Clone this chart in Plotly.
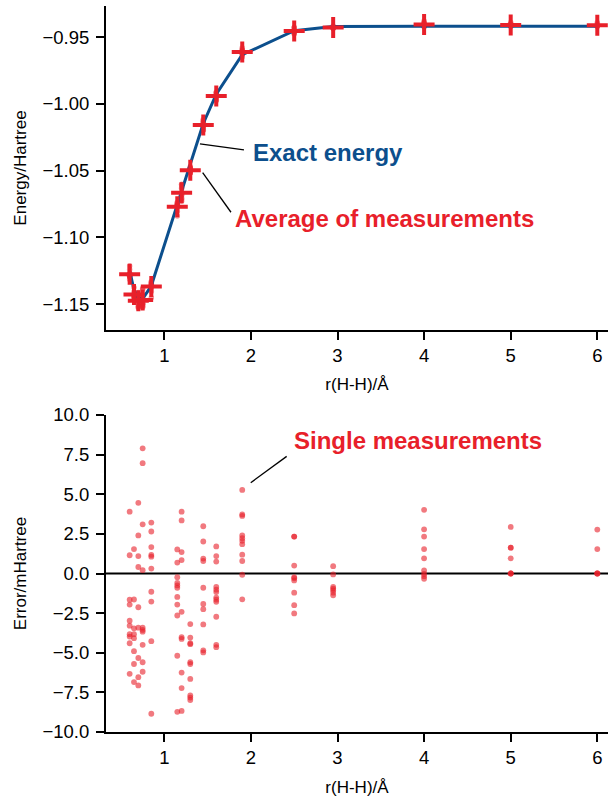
import numpy as np
import plotly.graph_objects as go

# ---------------- data ----------------
distances = [0.6, 0.65, 0.7, 0.75, 0.85, 1.15, 1.2, 1.3, 1.45, 1.6, 1.9, 2.5, 2.95, 4.0, 5.0, 6.0]

exact_energy = [-1.1252, -1.1390, -1.1456, -1.1460, -1.1362, -1.0751, -1.0641, -1.0438,
                -1.0146, -0.9927, -0.9631, -0.9451, -0.9420, -0.9418, -0.9418, -0.9418]

# single-measurement errors in mHartree, one list per distance
errors = [
    [3.9, 1.15, -1.65, -1.96, -2.98, -3.29, -3.83, -3.98, -4.4, -6.33],
    [1.54, -1.64, -3.46, -3.83, -4.08, -4.9, -5.71, -6.85],
    [4.46, 2.40, 1.10, 0.41, -2.13, -3.42, -5.33, -6.54, -7.06],
    [7.9, 6.96, 3.1, 0.21, -3.42, -3.56, -3.67, -4.5, -5.6, -6.2],
    [3.21, 2.65, 1.67, 1.17, 1.06, 0.31, -1.15, -1.77, -4.27, -8.85],
    [1.52, 0.69, -0.23, -0.60, -0.75, -0.9, -1.48, -1.96, -2.65, -5.19, -8.73],
    [3.90, 3.35, 1.35, 0.85, -2.42, -4.02, -4.13, -6.25, -7.23, -8.67],
    [-3.19, -4.04, -4.40, -4.46, -5.6, -5.71, -6.65, -7.69, -7.83, -7.98],
    [2.98, 2.02, 0.94, 0.79, -0.9, -1.92, -2.25, -3.21, -4.85, -4.98],
    [1.71, 1.1, 0.75, -0.85, -1.02, -1.17, -1.52, -1.65, -1.79, -2.73, -4.5, -4.65],
    [5.27, 3.73, 3.63, 2.4, 2.23, 2.06, 1.85, 1.19, 0.79, -0.08, -1.63],
    [2.33, 2.33, 0.5, -0.23, -0.3, -0.44, -1.21, -2.0, -2.52],
    [0.46, -0.06, -0.85, -0.95, -1.06, -1.21, -1.38],
    [4.02, 2.79, 2.33, 1.54, 0.96, 0.19, -0.02, -0.17, -0.33],
    [2.94, 1.63, 1.63, 0.96, 0.0, 0.0, 0.0],
    [2.77, 1.54, 0.0, 0.0, 0.0],
]

energy_ticks = [-0.95, -1.00, -1.05, -1.10, -1.15]
error_ticks = [10.0, 7.5, 5.0, 2.5, 0.0, -2.5, -5.0, -7.5, -10.0]
x_ticks = [1, 2, 3, 4, 5, 6]

# ---------------- derived ----------------
meas_x, meas_err, meas_E = [], [], []
for r, e0, errs in zip(distances, exact_energy, errors):
    for er in errs:
        meas_x.append(r)
        meas_err.append(er)
        meas_E.append(e0 + er / 1000.0)
avg_energy = [e0 + np.mean(errs) / 1000.0 for e0, errs in zip(exact_energy, errors)]

RED = "#e8202a"
BLUE = "#0c4f8d"
FONT = "Liberation Sans, Arial, Helvetica, sans-serif"

fig = go.Figure()

# top panel
fig.add_trace(go.Scatter(x=meas_x, y=meas_E, mode="markers", xaxis="x", yaxis="y",
                         marker=dict(color=RED, size=5.5, opacity=0.45, line=dict(width=0)),
                         showlegend=False, hoverinfo="skip", cliponaxis=True))
fig.add_trace(go.Scatter(x=distances, y=exact_energy, mode="lines", xaxis="x", yaxis="y",
                         line=dict(color=BLUE, width=3), showlegend=False))
fig.add_trace(go.Scatter(x=distances, y=avg_energy, mode="markers", xaxis="x", yaxis="y",
                         marker=dict(symbol="cross-thin", size=15, color=RED,
                                     line=dict(color=RED, width=4)),
                         showlegend=False, cliponaxis=False))

# bottom panel
fig.add_trace(go.Scatter(x=meas_x, y=meas_err, mode="markers", xaxis="x2", yaxis="y2",
                         marker=dict(color=RED, size=5.8, opacity=0.6, line=dict(width=0)),
                         showlegend=False))

W, H = 613, 803
ml, mr, mt, mb = 106, 5, 6, 71
ph = H - mt - mb
top_dom = [(732 - 330) / ph, 1.0]
bot_dom = [0.0, (732 - 415) / ph]
xr = [(106 - 77.7) / 86.6, (608 - 77.7) / 86.6]

axis_common = dict(showline=True, linecolor="black", linewidth=2, ticks="outside",
                   ticklen=8, tickwidth=2, tickcolor="black", showgrid=False, zeroline=False,
                   tickfont=dict(family=FONT, size=18.5, color="black"), mirror=False,
                   automargin=False)

fig.update_layout(
    width=W, height=H, margin=dict(l=ml, r=mr, t=mt, b=mb, autoexpand=False),
    plot_bgcolor="white", paper_bgcolor="white",
    font=dict(family=FONT, color="black"),
    xaxis=dict(domain=[0, 1], anchor="y", range=xr, tickvals=x_ticks,
               ticklabelstandoff=0,
               title=dict(text="r(H-H)/Å", font=dict(family=FONT, size=17), standoff=13),
               **axis_common),
    yaxis=dict(domain=top_dom, anchor="x", range=[-1.1693, -0.9266], tickvals=energy_ticks,
               tickformat=".2f", ticklabelstandoff=3,
               title=dict(text="Energy/Hartree", font=dict(family=FONT, size=17), standoff=12),
               **axis_common),
    xaxis2=dict(domain=[0, 1], anchor="y2", range=xr, tickvals=x_ticks,
                ticklabelstandoff=0,
                title=dict(text="r(H-H)/Å", font=dict(family=FONT, size=17), standoff=14),
                **axis_common),
    yaxis2=dict(domain=bot_dom, anchor="x2", range=[-10, 10], tickvals=error_ticks,
                tickformat=".1f", ticklabelstandoff=3,
                title=dict(text="Error/mHartree", font=dict(family=FONT, size=17), standoff=12),
                **axis_common),
)

# zero line in bottom panel
fig.add_shape(type="line", xref="x2 domain", yref="y2", x0=0, x1=1, y0=0, y1=0,
              line=dict(color="black", width=2), layer="below")

# annotation pointer lines
fig.add_shape(type="line", xref="x", yref="y", x0=1.412, y0=-1.0299, x1=1.920, y1=-1.0344,
              line=dict(color="black", width=1.3))
fig.add_shape(type="line", xref="x", yref="y", x0=1.443, y0=-1.0514, x1=1.770, y1=-1.0811,
              line=dict(color="black", width=1.3))
fig.add_shape(type="line", xref="x2", yref="y2", x0=1.998, y0=5.73, x1=2.413, y1=7.39,
              line=dict(color="black", width=1.3))

fig.add_annotation(x=2.0, y=-1.0367, xref="x", yref="y", text="<b>Exact energy</b>",
                   showarrow=False, xanchor="left", yanchor="middle",
                   font=dict(family=FONT, size=24, color=BLUE))
fig.add_annotation(x=1.79, y=-1.0854, xref="x", yref="y", text="<b>Average of measurements</b>",
                   showarrow=False, xanchor="left", yanchor="middle",
                   font=dict(family=FONT, size=24, color=RED))
fig.add_annotation(x=2.47, y=8.40, xref="x2", yref="y2", text="<b>Single measurements</b>",
                   showarrow=False, xanchor="left", yanchor="middle",
                   font=dict(family=FONT, size=24, color=RED))

fig.write_html("out.html")
